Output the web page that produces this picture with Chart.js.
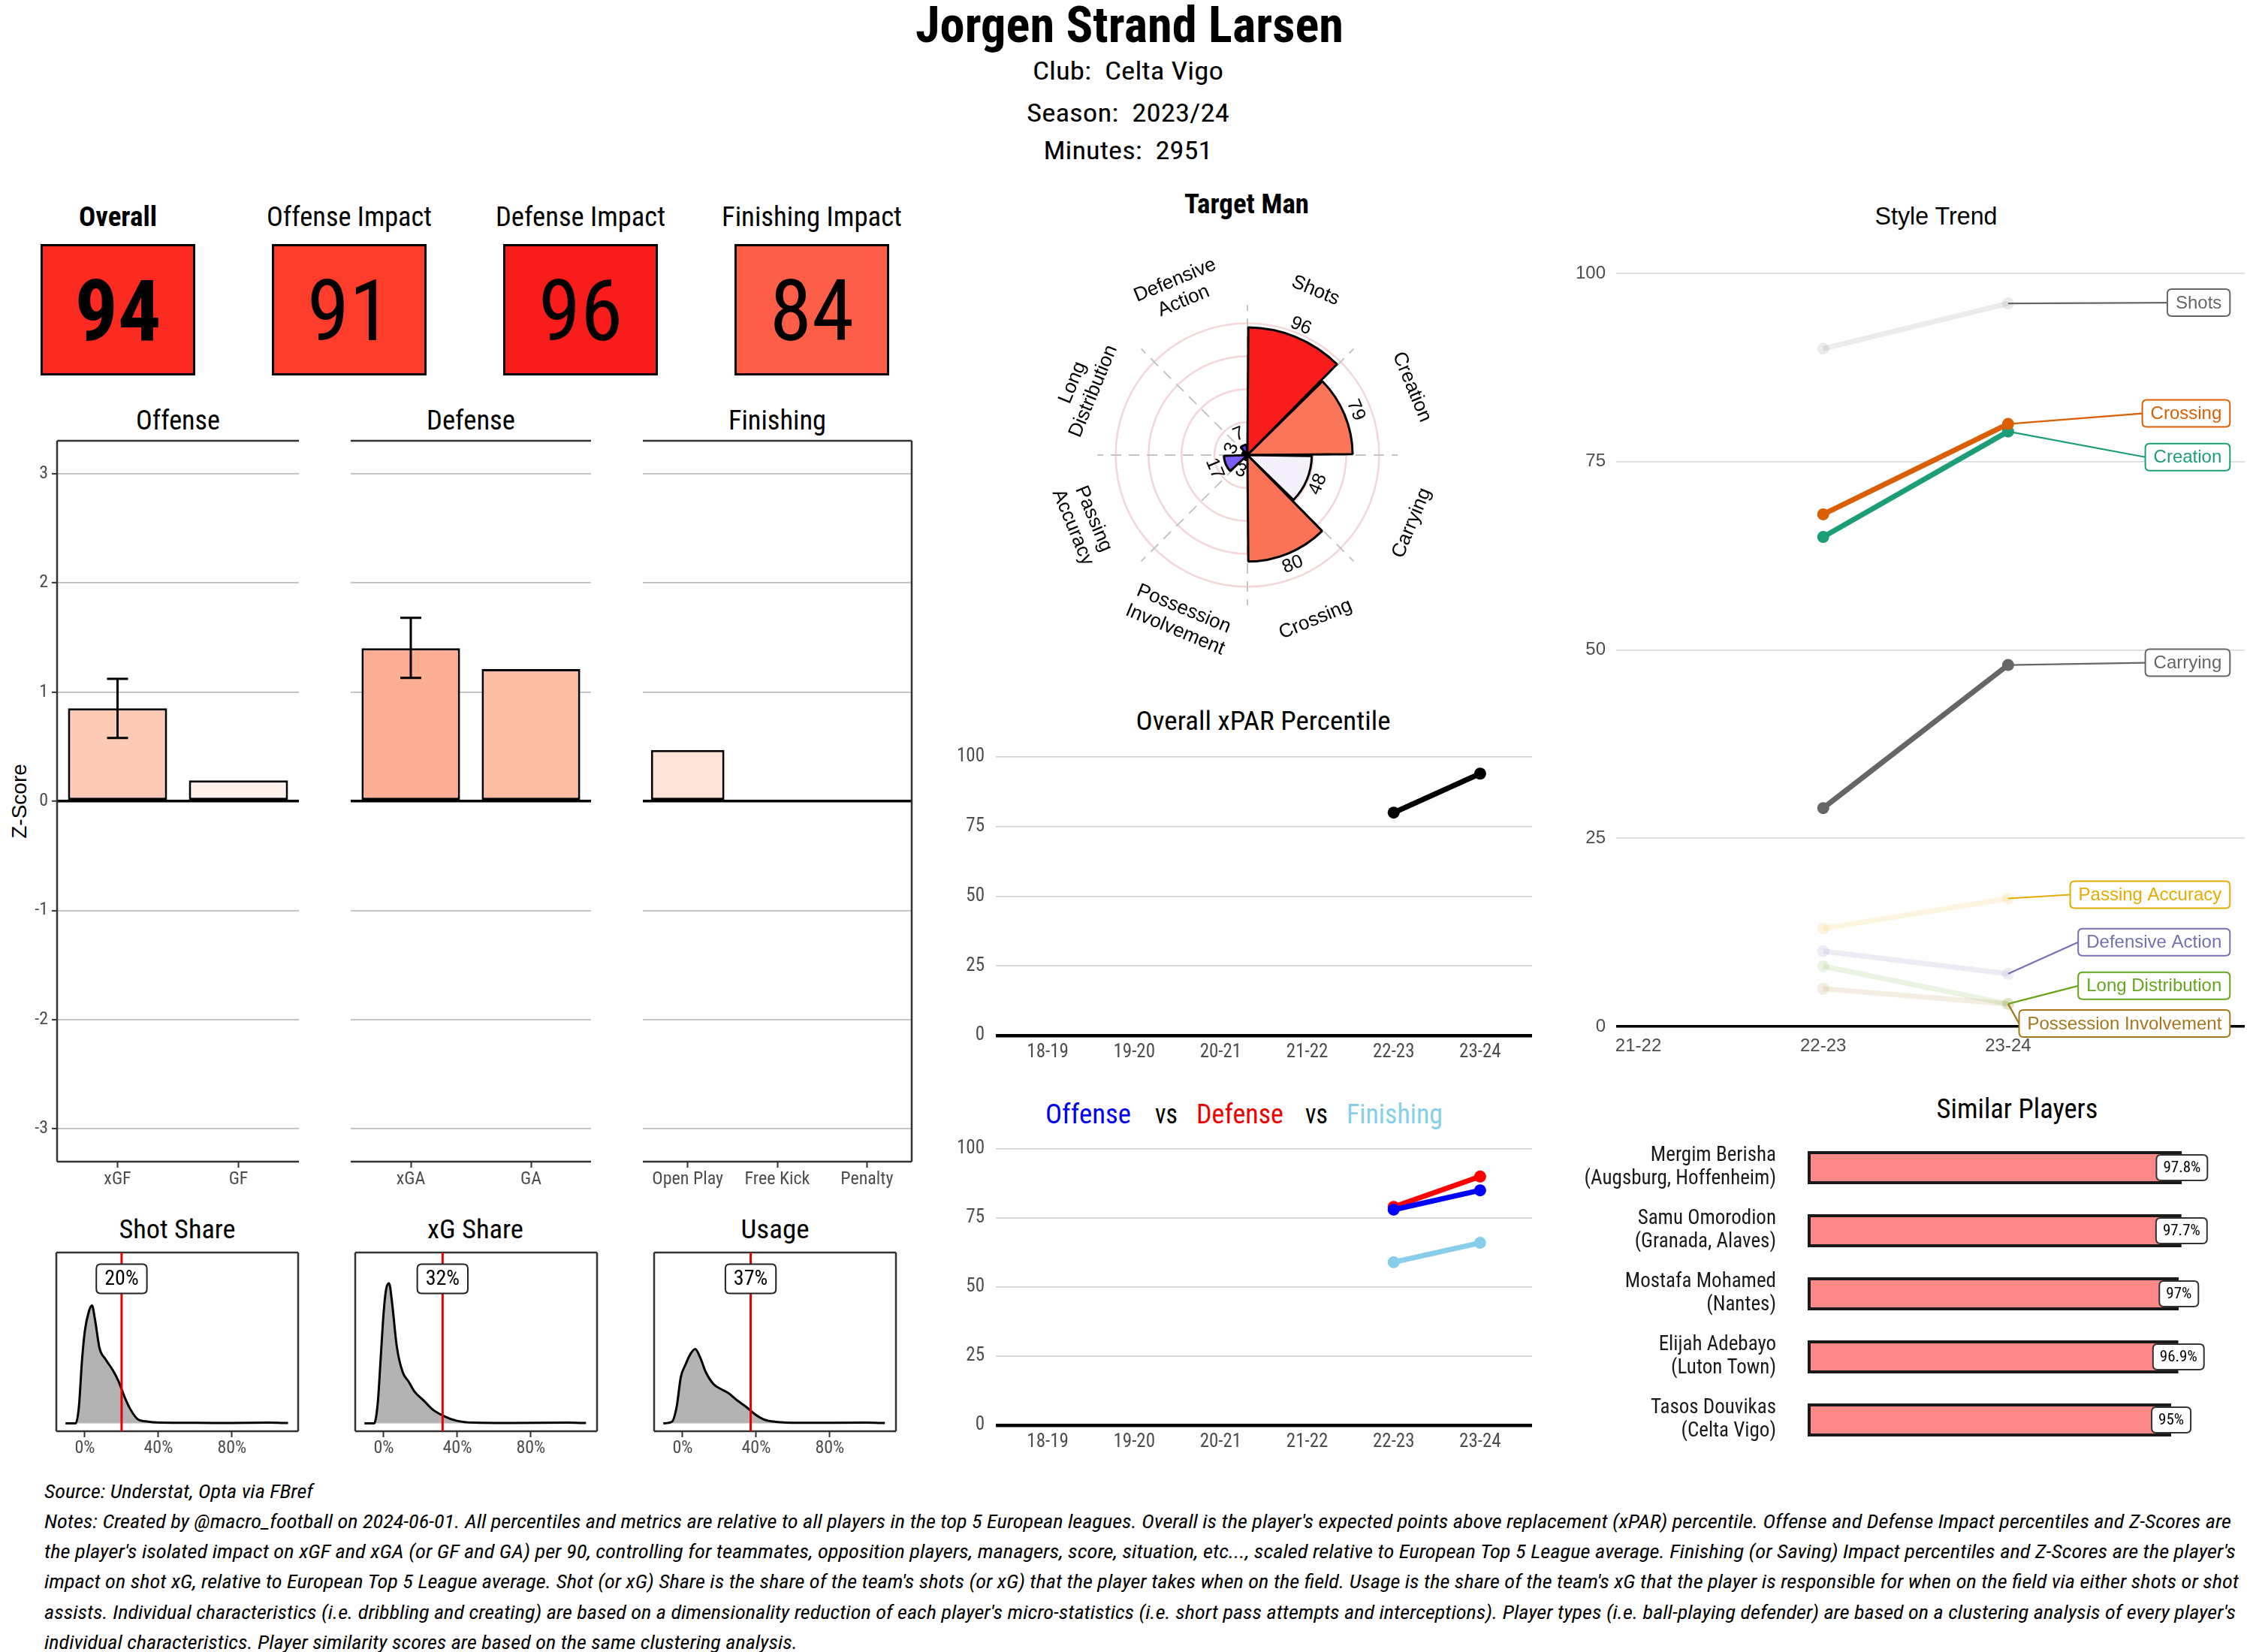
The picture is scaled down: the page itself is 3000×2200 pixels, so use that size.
<!DOCTYPE html>
<html>
<head>
<meta charset="utf-8">
<title>Jorgen Strand Larsen</title>
<script src="https://cdn.jsdelivr.net/npm/chart.js@4.4.1/dist/chart.umd.min.js"></script>
<style>
  html, body { margin: 0; padding: 0; background: #fff; }
  body { position: relative; width: 3000px; height: 2200px; overflow: hidden; }
  canvas { position: absolute; }
  .txt { position: absolute; white-space: pre; }
</style>
</head>
<body>
<script>
// ---- data ----
const kpiLabels = ['Overall', 'Offense Impact', 'Defense Impact', 'Finishing Impact'];
const kpiValues = [94, 91, 96, 84];

const zTicks = [-3, -2, -1, 0, 1, 2, 3];
const offCats = ['xGF', 'GF'];
const offValues = [0.85, 0.19];
const offErrLow = [0.58, null];
const offErrHigh = [1.12, null];
const defCats = ['xGA', 'GA'];
const defValues = [1.40, 1.21];
const defErrLow = [1.13, null];
const defErrHigh = [1.68, null];
const finCats = ['Open Play', 'Free Kick', 'Penalty'];
const finValues = [0.47, 0, 0];
const finErrLow = [null, null, null];
const finErrHigh = [null, null, null];

// density curves (x in %, y in relative density)
const shareTicks = [0, 40, 80];
const shotShareX = [-10.5, -5, -3.2, -1.6, 0, 2.2, 3.9, 5.5, 8, 11.3, 15, 18.4, 21.6, 24.8, 28.7, 33, 41, 60, 80, 100, 110.5];
const shotShareY = [0, 0, 0.10, 0.36, 0.54, 0.655, 0.69, 0.61, 0.44, 0.375, 0.315, 0.245, 0.155, 0.082, 0.025, 0.012, 0.004, 0.003, 0.002, 0.004, 0.002];
const shotShareValue = 20;
const xgShareX = [-10.5, -5.2, -3.2, -1.6, 0, 1.3, 2.9, 4.5, 7.1, 10.3, 13.5, 16.8, 21.6, 26.5, 32.3, 39.4, 49, 70, 100, 110];
const xgShareY = [0, 0, 0.125, 0.39, 0.655, 0.785, 0.82, 0.71, 0.45, 0.30, 0.245, 0.185, 0.135, 0.082, 0.045, 0.016, 0.004, 0.002, 0.004, 0.002];
const xgShareValue = 32;
const usageX = [-10.5, -5.8, -3.2, -1, 1.6, 4.2, 6.8, 9.4, 12.6, 16.8, 21, 24.8, 29.7, 34.5, 39.4, 44.2, 50.6, 63.5, 100, 110];
const usageY = [0, 0.01, 0.10, 0.27, 0.345, 0.405, 0.435, 0.39, 0.30, 0.23, 0.20, 0.178, 0.134, 0.097, 0.053, 0.023, 0.009, 0.003, 0.004, 0.002];
const usageValue = 37;

const radarCats = ['Shots', 'Creation', 'Carrying', 'Crossing', 'Possession Involvement', 'Passing Accuracy', 'Long Distribution', 'Defensive Action'];
const radarValues = [96, 79, 48, 80, 3, 17, 3, 7];
const radarTicks = [0, 25, 50, 75, 100];

const seasons = ['18-19', '19-20', '20-21', '21-22', '22-23', '23-24'];
const pctTicks = [0, 25, 50, 75, 100];
const xparValues = [null, null, null, null, 80, 94];
const offenseTrend = [null, null, null, null, 78, 85];
const defenseTrend = [null, null, null, null, 79, 90];
const finishingTrend = [null, null, null, null, 59, 66];

const styleSeasons = ['21-22', '22-23', '23-24'];
const styleNames = ['Shots', 'Crossing', 'Creation', 'Carrying', 'Passing Accuracy', 'Defensive Action', 'Long Distribution', 'Possession Involvement'];
const shotsTrend = [null, 90, 96];
const crossingTrend = [null, 68, 80];
const creationTrend = [null, 65, 79];
const carryingTrend = [null, 29, 48];
const passingTrend = [null, 13, 17];
const defActionTrend = [null, 10, 7];
const longDistTrend = [null, 8, 3];
const possessionTrend = [null, 5, 3];
const styleSeries = [shotsTrend, crossingTrend, creationTrend, carryingTrend, passingTrend, defActionTrend, longDistTrend, possessionTrend];

const similarPlayers = ['Mergim Berisha', 'Samu Omorodion', 'Mostafa Mohamed', 'Elijah Adebayo', 'Tasos Douvikas'];
const similarClubs = ['(Augsburg, Hoffenheim)', '(Granada, Alaves)', '(Nantes)', '(Luton Town)', '(Celta Vigo)'];
const similarValues = [97.8, 97.7, 97, 96.9, 95];

// ---- styles ----
const kpiColors = ['#fc2b21', '#fc3d2c', '#f81c1a', '#fc5e47'];
const offColors = ['#fdcab5', '#fef0ea'];
const defColors = ['#fcae94', '#fcbba3'];
const finColors = ['#fee4d8', '#fee4d8', '#fee4d8'];
const radarColors = ['#f81d1c', '#fb7659', '#f4f1fc', '#fb7357', '#3f1ff2', '#7b5cf4', '#3f1ff2', '#5a3af0'];
const styleColors = ['#666666', '#d95f02', '#1b9e77', '#666666', '#e6ab02', '#7570b3', '#66a61e', '#a6761d'];
const styleFocus = [false, true, true, true, false, false, false, false];
const styleLabelY = [96.1, 81.4, 75.6, 48.3, 17.5, 11.2, 5.4, 0.4];
const shareLabelLevel = 0.846;

function hasFont(f) {
  const c = document.createElement('canvas').getContext('2d');
  const s = 'Condensed Text 0123';
  c.font = '40px monospace';
  const a = c.measureText(s).width;
  c.font = `40px "${f}", monospace`;
  return c.measureText(s).width !== a;
}
const NARROW = hasFont('Roboto Condensed') || hasFont('Liberation Sans Narrow');
const SX = NARROW ? 1 : 0.86;
const COND = '"Roboto Condensed", "Liberation Sans Narrow", Roboto, sans-serif';
const ARIAL = '"Liberation Sans", Arial, Helvetica, sans-serif';

Chart.defaults.font.family = COND;
Chart.defaults.color = '#4d4d4d';
const base = { responsive: false, animation: false, events: [], plugins: { legend: { display: false }, tooltip: { enabled: false } } };

// fix an axis' width and drop the label overhang padding so the plot area lands where it should
const fitY = w => s => { s.width = w; s.paddingTop = 0; s.paddingBottom = 0; };

function mk(left, top, w, h) {
  const c = document.createElement('canvas');
  c.width = w; c.height = h;
  c.style.left = left + 'px'; c.style.top = top + 'px';
  c.style.width = w + 'px'; c.style.height = h + 'px';
  document.body.appendChild(c);
  return c.getContext('2d');
}

function label(txt, x, y, o) {
  const d = document.createElement('div');
  d.className = 'txt';
  d.textContent = txt;
  d.style.left = x + 'px';
  d.style.top = y + 'px';
  d.style.font = `${o.italic ? 'italic ' : ''}${o.bold ? 'bold ' : ''}${o.size}px ${o.family || COND}`;
  d.style.lineHeight = '1';
  d.style.color = o.color || '#000';
  document.body.appendChild(d);
  const w = d.getBoundingClientRect().width;
  const s = o.width ? o.width / w : 1;
  const left = o.align === 'left';
  d.style.transformOrigin = left ? '0 50%' : '50% 50%';
  d.style.transform = `translate(${left ? 0 : '-50%'}, -50%)${o.rotate ? ` rotate(${o.rotate}deg)` : ''} scaleX(${s})`;
}

function rrect(ctx, x, y, w, h, r) {
  ctx.beginPath();
  ctx.moveTo(x + r, y);
  ctx.lineTo(x + w - r, y); ctx.quadraticCurveTo(x + w, y, x + w, y + r);
  ctx.lineTo(x + w, y + h - r); ctx.quadraticCurveTo(x + w, y + h, x + w - r, y + h);
  ctx.lineTo(x + r, y + h); ctx.quadraticCurveTo(x, y + h, x, y + h - r);
  ctx.lineTo(x, y + r); ctx.quadraticCurveTo(x, y, x + r, y);
  ctx.closePath();
}

function condText(ctx, t, x, y, font, color) {
  ctx.save();
  ctx.translate(x, y);
  ctx.scale(SX, 1);
  ctx.font = font; ctx.fillStyle = color;
  ctx.textAlign = 'center'; ctx.textBaseline = 'middle';
  ctx.fillText(t, 0, 0);
  ctx.restore();
}

function boxLabel(ctx, t, cx, cy, size, h, pad, stroke) {
  ctx.save();
  ctx.font = `${size}px ${COND}`;
  const w = ctx.measureText(t).width * SX + pad * 2;
  rrect(ctx, cx - w / 2, cy - h / 2, w, h, 6);
  ctx.fillStyle = '#fff'; ctx.fill();
  ctx.strokeStyle = stroke; ctx.lineWidth = 2; ctx.stroke();
  ctx.restore();
  condText(ctx, t, cx, cy + 1, `${size}px ${COND}`, '#000');
}

// ---- header ----
label('Jorgen Strand Larsen', 1504, 34, { size: 66, bold: true, width: 570 });
label('Club:  Celta Vigo', 1502, 94, { size: 34, width: 254 });
label('Season:  2023/24', 1502, 150, { size: 34, width: 270 });
label('Minutes:  2951', 1502, 200, { size: 34, width: 225 });

// ---- KPI tiles ----
const kpiTitleW = [104, 220, 226, 240];
kpiLabels.forEach((t, i) => label(t, 157 + 308 * i, 288, { size: 37, bold: i === 0, width: kpiTitleW[i] }));

new Chart(mk(3, 318, 1232, 190), {
  type: 'bar',
  data: {
    labels: kpiLabels,
    datasets: [{
      data: kpiValues.map(() => [0, 1]),
      backgroundColor: kpiColors,
      borderColor: '#000',
      borderWidth: 3,
      borderSkipped: false,
      barPercentage: 206 / 308,
      categoryPercentage: 1
    }]
  },
  options: {
    ...base,
    layout: { padding: { top: 7, bottom: 8 } },
    scales: { x: { display: false }, y: { display: false, min: 0, max: 1 } }
  },
  plugins: [{
    id: 'kpiText',
    afterDatasetsDraw(chart) {
      const ctx = chart.ctx;
      chart.getDatasetMeta(0).data.forEach((bar, i) => {
        const cy = (bar.y + bar.base) / 2;
        ctx.save();
        ctx.translate(bar.x, cy + 40);
        ctx.scale(SX, 1);
        ctx.font = `${i === 0 ? 'bold ' : ''}114px ${COND}`;
        ctx.fillStyle = '#000';
        ctx.textAlign = 'center'; ctx.textBaseline = 'alphabetic';
        ctx.fillText(String(kpiValues[i]), 0, 0);
        ctx.restore();
      });
    }
  }]
});

// ---- Z-score panels ----
const frame = (l, r) => ({
  id: 'frame',
  afterDatasetsDraw(chart) {
    const { ctx, chartArea: a } = chart;
    ctx.save();
    ctx.strokeStyle = '#333'; ctx.lineWidth = 2.5;
    ctx.beginPath();
    ctx.moveTo(a.left, a.top); ctx.lineTo(a.right, a.top);
    ctx.moveTo(a.left, a.bottom); ctx.lineTo(a.right, a.bottom);
    if (l) { ctx.moveTo(a.left, a.top); ctx.lineTo(a.left, a.bottom); }
    if (r) { ctx.moveTo(a.right, a.top); ctx.lineTo(a.right, a.bottom); }
    ctx.stroke();
    ctx.restore();
  }
});

const errorBars = (lo, hi) => ({
  id: 'err',
  afterDatasetsDraw(chart) {
    const ctx = chart.ctx, y = chart.scales.y;
    ctx.save();
    ctx.strokeStyle = '#000'; ctx.lineWidth = 3;
    chart.getDatasetMeta(0).data.forEach((bar, i) => {
      if (lo[i] == null) return;
      const y1 = y.getPixelForValue(lo[i]), y2 = y.getPixelForValue(hi[i]);
      ctx.beginPath();
      ctx.moveTo(bar.x, y1); ctx.lineTo(bar.x, y2);
      ctx.moveTo(bar.x - 14, y1); ctx.lineTo(bar.x + 14, y1);
      ctx.moveTo(bar.x - 14, y2); ctx.lineTo(bar.x + 14, y2);
      ctx.stroke();
    });
    ctx.restore();
  }
});

function zPanel(x0, x1, cats, vals, cols, lo, hi, first, last) {
  const yw = first ? 76 : 0;
  const left = x0 - yw;
  new Chart(mk(left, 577, x1 - left + 10, 1020), {
    type: 'bar',
    data: {
      labels: cats,
      datasets: [{
        data: vals, backgroundColor: cols, borderColor: '#000', borderWidth: 3,
        borderSkipped: false, barPercentage: 0.82, categoryPercentage: 1
      }]
    },
    options: {
      ...base,
      layout: { padding: { top: 10, right: 10, left: 0, bottom: 0 } },
      scales: {
        x: {
          afterFit: s => { s.height = 50; },
          grid: { drawOnChartArea: false, offset: false, tickLength: 8, tickColor: '#333', tickWidth: 2 },
          border: { display: false },
          ticks: { font: { family: COND, size: 24 }, color: '#4d4d4d', padding: 2 }
        },
        y: {
          min: -3.3, max: 3.3,
          afterFit: fitY(yw),
          afterBuildTicks: s => { s.ticks = zTicks.map(v => ({ value: v })); },
          grid: {
            color: c => c.tick.value === 0 ? '#000' : '#bdbdbd',
            lineWidth: c => c.tick.value === 0 ? 3.5 : 1.8,
            drawTicks: first, tickLength: 7, tickColor: '#333', tickWidth: 2
          },
          border: { display: false },
          ticks: { display: first, font: { family: COND, size: 24 }, color: '#4d4d4d', padding: 5 }
        }
      }
    },
    plugins: [frame(first, last), errorBars(lo, hi)]
  });
}

label('Offense', 237, 559, { size: 37, width: 112 });
label('Defense', 627, 559, { size: 37, width: 118 });
label('Finishing', 1035, 559, { size: 37, width: 130 });
label('Z-Score', 26, 1067, { size: 28, family: ARIAL, rotate: -90 });
zPanel(76, 398, offCats, offValues, offColors, offErrLow, offErrHigh, true, false);
zPanel(467, 787, defCats, defValues, defColors, defErrLow, defErrHigh, false, false);
zPanel(856, 1214, finCats, finValues, finColors, finErrLow, finErrHigh, false, true);

// ---- density panels ----
const shareMarker = val => ({
  id: 'mark',
  afterDatasetsDraw(chart) {
    const { ctx, chartArea: a, scales: { x, y } } = chart;
    const px = x.getPixelForValue(val);
    ctx.save();
    ctx.strokeStyle = '#e60000'; ctx.lineWidth = 3;
    ctx.beginPath(); ctx.moveTo(px, a.top); ctx.lineTo(px, a.bottom); ctx.stroke();
    ctx.restore();
    boxLabel(ctx, val + '%', px, y.getPixelForValue(shareLabelLevel), 28, 39, 11, '#222');
  }
});

function densPanel(x0, x1, xs, ys, val) {
  new Chart(mk(x0 - 5, 1660, x1 - x0 + 10, 286), {
    type: 'line',
    data: {
      datasets: [{
        data: xs.map((x, i) => ({ x, y: ys[i] })),
        borderColor: '#000', borderWidth: 3, backgroundColor: '#b3b3b3',
        fill: 'origin', pointRadius: 0, cubicInterpolationMode: 'monotone'
      }]
    },
    options: {
      ...base,
      layout: { padding: { left: 5, right: 5, top: 8, bottom: 0 } },
      scales: {
        x: {
          type: 'linear', min: -15.5, max: 116,
          afterFit: s => { s.height = 40; },
          afterBuildTicks: s => { s.ticks = shareTicks.map(v => ({ value: v })); },
          grid: { drawOnChartArea: false, tickLength: 8, tickColor: '#333', tickWidth: 2 },
          border: { display: false },
          ticks: { callback: v => v + '%', font: { family: COND, size: 24 }, color: '#4d4d4d', padding: 1 }
        },
        y: { min: -0.046, max: 1, display: false }
      }
    },
    plugins: [frame(true, true), shareMarker(val)]
  });
}

label('Shot Share', 236, 1637, { size: 35, width: 155 });
label('xG Share', 633, 1637, { size: 35, width: 128 });
label('Usage', 1032, 1637, { size: 35, width: 91 });
densPanel(75, 397, shotShareX, shotShareY, shotShareValue);
densPanel(473, 795, xgShareX, xgShareY, xgShareValue);
densPanel(871, 1193, usageX, usageY, usageValue);

// ---- polar "Target Man" ----
label('Target Man', 1660, 272, { size: 36, bold: true, width: 166 });

function rotText(ctx, lines, x, y, rot, size) {
  ctx.save();
  ctx.translate(x, y); ctx.rotate(rot);
  ctx.font = `${size}px ${ARIAL}`; ctx.fillStyle = '#000';
  ctx.textAlign = 'center'; ctx.textBaseline = 'middle';
  const lh = size * 1.15, y0 = -(lines.length - 1) * lh / 2;
  lines.forEach((t, k) => ctx.fillText(t, 0, y0 + k * lh));
  ctx.restore();
}

new Chart(mk(1341, 286, 640, 640), {
  type: 'polarArea',
  data: {
    labels: radarCats,
    datasets: [{ data: radarValues, backgroundColor: radarColors, borderColor: '#000', borderWidth: 3, spacing: 3 }]
  },
  options: {
    ...base,
    layout: { padding: 120 },
    scales: {
      r: {
        min: 0, max: 114,
        afterBuildTicks: s => { s.ticks = radarTicks.map(v => ({ value: v })); },
        ticks: { display: false },
        grid: { color: '#f4d6d9', lineWidth: 2.5 },
        angleLines: { display: true, color: '#c4c4c4', lineWidth: 2, borderDash: [14, 10] },
        pointLabels: { display: false }
      }
    }
  },
  plugins: [{
    id: 'radarLabels',
    afterDraw(chart) {
      const s = chart.scales.r, ctx = chart.ctx, n = radarCats.length;
      radarCats.forEach((name, i) => {
        const deg = (i + 0.5) * 360 / n;
        const rad = (deg - 90) * Math.PI / 180;
        const rot = (((deg + 90) % 180) - 90) * Math.PI / 180;
        const d = s.getDistanceFromCenterForValue(135);
        rotText(ctx, name.split(' '), s.xCenter + Math.cos(rad) * d, s.yCenter + Math.sin(rad) * d, rot, 26);
        const dv = s.getDistanceFromCenterForValue(radarValues[i] + 10);
        rotText(ctx, [String(radarValues[i])], s.xCenter + Math.cos(rad) * dv, s.yCenter + Math.sin(rad) * dv, rot, 25);
      });
    }
  }]
});

// ---- season trend charts ----
function seasonChart(top, bottom, datasets) {
  new Chart(mk(1240, top - 25, 810, bottom - top + 70), {
    type: 'line',
    data: { datasets },
    options: {
      ...base,
      layout: { padding: { top: 25, right: 10, left: 0, bottom: 0 } },
      scales: {
        x: {
          type: 'linear', min: 0.4, max: 6.6,
          afterFit: s => { s.height = 45; },
          afterBuildTicks: s => { s.ticks = seasons.map((_, i) => ({ value: i + 1 })); },
          grid: { display: false, drawTicks: false },
          border: { display: false },
          ticks: { callback: v => seasons[v - 1], font: { family: COND, size: 25 }, color: '#4d4d4d', padding: 8 }
        },
        y: {
          min: 0, max: 100,
          afterFit: fitY(86),
          afterBuildTicks: s => { s.ticks = pctTicks.map(v => ({ value: v })); },
          grid: {
            color: c => c.tick.value === 0 ? '#000' : '#d3d3d3',
            lineWidth: c => c.tick.value === 0 ? 4.5 : 1.8,
            drawTicks: false
          },
          border: { display: false },
          ticks: { font: { family: COND, size: 25 }, color: '#4d4d4d', padding: 15 }
        }
      }
    }
  });
}

function seasonSet(vals, color) {
  return {
    data: seasons.map((s, i) => ({ x: i + 1, y: vals[i] })),
    borderColor: color, backgroundColor: color, borderWidth: 7,
    pointRadius: 8, pointBorderWidth: 0, spanGaps: false, clip: false
  };
}

label('Overall xPAR Percentile', 1682, 960, { size: 35, width: 339 });
seasonChart(1008, 1379, [seasonSet(xparValues, '#000')]);

label('Offense', 1449, 1484, { size: 36, width: 114, color: '#0000ee' });
label('vs', 1553, 1484, { size: 36, width: 30 });
label('Defense', 1651, 1484, { size: 36, width: 116, color: '#ee0000' });
label('vs', 1753, 1484, { size: 36, width: 30 });
label('Finishing', 1857, 1484, { size: 36, width: 128, color: '#87ceeb' });
seasonChart(1530, 1898, [
  seasonSet(finishingTrend, '#87ceeb'),
  seasonSet(offenseTrend, '#0000ff'),
  seasonSet(defenseTrend, '#ff0000')
]);

// ---- Style Trend ----
function fade(hex) {
  const n = parseInt(hex.slice(1), 16);
  return `rgba(${n >> 16},${(n >> 8) & 255},${n & 255},0.13)`;
}

label('Style Trend', 2578, 287, { size: 33, family: ARIAL, width: 163 });

const styleOrder = styleNames.map((_, i) => i).sort((a, b) => styleFocus[a] - styleFocus[b]);
new Chart(mk(2050, 339, 950, 1073), {
  type: 'line',
  data: {
    datasets: styleOrder.map(i => {
      const c = styleFocus[i] ? styleColors[i] : fade(styleColors[i]);
      return {
        data: styleSeasons.map((s, k) => ({ x: k, y: styleSeries[i][k] })),
        borderColor: c, backgroundColor: c, borderWidth: 7,
        pointRadius: 8, pointBorderWidth: 0, spanGaps: false
      };
    })
  },
  options: {
    ...base,
    layout: { padding: { top: 25, right: 11, left: 0, bottom: 0 } },
    scales: {
      x: {
        type: 'linear', min: -0.12, max: 3.28,
        afterFit: s => { s.height = 45; },
        afterBuildTicks: s => { s.ticks = styleSeasons.map((_, k) => ({ value: k })); },
        grid: { display: false, drawTicks: false },
        border: { display: false },
        ticks: { callback: v => styleSeasons[v], font: { family: ARIAL, size: 24 }, color: '#4d4d4d', padding: 12 }
      },
      y: {
        min: 0, max: 100,
        afterFit: fitY(102),
        afterBuildTicks: s => { s.ticks = pctTicks.map(v => ({ value: v })); },
        grid: {
          color: c => c.tick.value === 0 ? '#000' : '#dcdcdc',
          lineWidth: c => c.tick.value === 0 ? 3.5 : 1.8,
          drawTicks: false
        },
        border: { display: false },
        ticks: { font: { family: ARIAL, size: 24 }, color: '#4d4d4d', padding: 14 }
      }
    }
  },
  plugins: [{
    id: 'styleLabels',
    afterDatasetsDraw(chart) {
      const { ctx, scales: { x, y } } = chart;
      ctx.save();
      ctx.font = `24px ${ARIAL}`;
      styleNames.forEach((name, i) => {
        const vals = styleSeries[i], last = vals.length - 1;
        const px = x.getPixelForValue(last), py = y.getPixelForValue(vals[last]);
        const ly = y.getPixelForValue(styleLabelY[i]);
        const bw = ctx.measureText(name).width + 22, bh = 36;
        const bl = x.getPixelForValue(3.2) - bw;
        ctx.strokeStyle = styleColors[i]; ctx.lineWidth = 2.2;
        ctx.beginPath(); ctx.moveTo(px, py); ctx.lineTo(bl, ly); ctx.stroke();
        rrect(ctx, bl, ly - bh / 2, bw, bh, 6);
        ctx.fillStyle = '#fff'; ctx.fill();
        ctx.lineWidth = 2; ctx.stroke();
        ctx.fillStyle = styleColors[i];
        ctx.textAlign = 'center'; ctx.textBaseline = 'middle';
        ctx.fillText(name, bl + bw / 2, ly + 1);
      });
      ctx.restore();
    }
  }]
});

// ---- Similar Players ----
label('Similar Players', 2686, 1477, { size: 36, width: 215 });
new Chart(mk(2050, 1503, 950, 437), {
  type: 'bar',
  data: {
    labels: similarPlayers.map((n, i) => [n, similarClubs[i]]),
    datasets: [{
      data: similarValues, backgroundColor: '#fc8888', borderColor: '#1a1a1a', borderWidth: 4,
      borderSkipped: false, barPercentage: 0.524, categoryPercentage: 1
    }]
  },
  options: {
    ...base,
    indexAxis: 'y',
    layout: { padding: { top: 10, right: 7, bottom: 7, left: 0 } },
    scales: {
      x: { display: false, min: 0, max: 115 },
      y: {
        afterFit: fitY(357),
        grid: { display: false, drawTicks: false },
        border: { display: false },
        ticks: { font: { family: COND, size: 27, lineHeight: 1.15 }, color: '#1a1a1a', padding: 42 }
      }
    }
  },
  plugins: [{
    id: 'simLabels',
    afterDatasetsDraw(chart) {
      const ctx = chart.ctx;
      chart.getDatasetMeta(0).data.forEach((bar, i) => {
        boxLabel(ctx, similarValues[i] + '%', bar.x, bar.y, 21, 34, 9, '#333');
      });
    }
  }]
});

// ---- notes ----
const noteLines = [
  "Notes: Created by @macro_football on 2024-06-01. All percentiles and metrics are relative to all players in the top 5 European leagues. Overall is the player's expected points above replacement (xPAR) percentile. Offense and Defense Impact percentiles and Z-Scores are",
  "the player's isolated impact on xGF and xGA (or GF and GA) per 90, controlling for teammates, opposition players, managers, score, situation, etc..., scaled relative to European Top 5 League average. Finishing (or Saving) Impact percentiles and Z-Scores are the player's",
  "impact on shot xG, relative to European Top 5 League average. Shot (or xG) Share is the share of the team's shots (or xG) that the player takes when on the field. Usage is the share of the team's xG that the player is responsible for when on the field via either shots or shot",
  "assists. Individual characteristics (i.e. dribbling and creating) are based on a dimensionality reduction of each player's micro-statistics (i.e. short pass attempts and interceptions). Player types (i.e. ball-playing defender) are based on a clustering analysis of every player's",
  "individual characteristics. Player similarity scores are based on the same clustering analysis."
];
const noteWidths = [2912, 2918, 2922, 2918, 1003];
label('Source: Understat, Opta via FBref', 59, 1986, { size: 25, italic: true, align: 'left', width: 358 });
noteLines.forEach((t, i) => label(t, 59, 2026 + i * 40.2, { size: 25, italic: true, align: 'left', width: noteWidths[i] }));
</script>
</body>
</html>
